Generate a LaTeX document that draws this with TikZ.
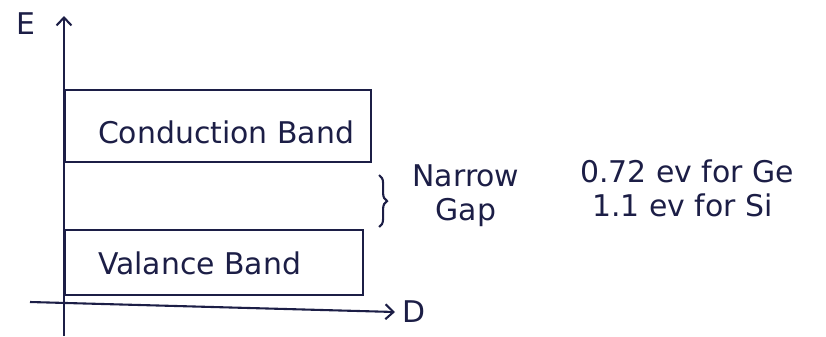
\documentclass[tikz,border=0pt]{standalone}
\usepackage{fontspec}
\setmainfont{DejaVu Sans}
\usepackage{tikz}
\usetikzlibrary{positioning,arrows.meta,calc,decorations.pathreplacing}
\definecolor{inknavy}{RGB}{28,30,70}
\colorlet{main_color}{inknavy}

\begin{document}
\begin{tikzpicture}[x=1bp,y=-1bp,line width=2.1pt,draw=main_color,
    every node/.style={font=\fontsize{30}{36}\selectfont,text=main_color},
    band/.style={draw,anchor=north west,inner sep=0pt},
    bandtext/.style={anchor=west,inner sep=0pt},
    axisline/.style={-{Straight Barb[length=8pt,width=15pt]}},
    gapbrace/.style={decorate,decoration={brace,amplitude=8pt}}]
      \useasboundingbox (0,0) rectangle (826,336);
      % axes
      \coordinate (ybot) at (64,336);
      \coordinate (ytop) at (64,16);
      \coordinate (xleft) at (30,302);
      \coordinate (xright) at (395,312);
      \draw[axisline] (ybot) -- (ytop);
      \draw[axisline] (xleft) -- (xright);
      \node (elabel) at (26,24) {E};
      \node[right=3bp of xright] (dlabel) {D};
      % bands
      \node[band,minimum width=306bp,minimum height=72bp] (cb) at (64,89) {};
      \node[band,minimum width=298bp,minimum height=65bp] (vb) at (64,229) {};
      \node[bandtext] (cbtext) at ([xshift=33bp,yshift=-6bp]cb.west) {Conduction Band};
      \node[bandtext] (vbtext) at ([xshift=33bp,yshift=-1bp]vb.west) {Valance Band};
      % gap
      \draw[gapbrace] ([xshift=7bp,yshift=-12bp]cb.south east) -- ([xshift=7bp,yshift=2bp]cb.south east |- vb.north);
      \node[align=center] (gap) at (466,196) {Narrow\\[-2pt]Gap};
      \node[anchor=west] (ge) at (576,171) {0.72 ev for Ge};
      \node[anchor=west] (si) at (588,205) {1.1 ev for Si};
    \end{tikzpicture}
\end{document}
